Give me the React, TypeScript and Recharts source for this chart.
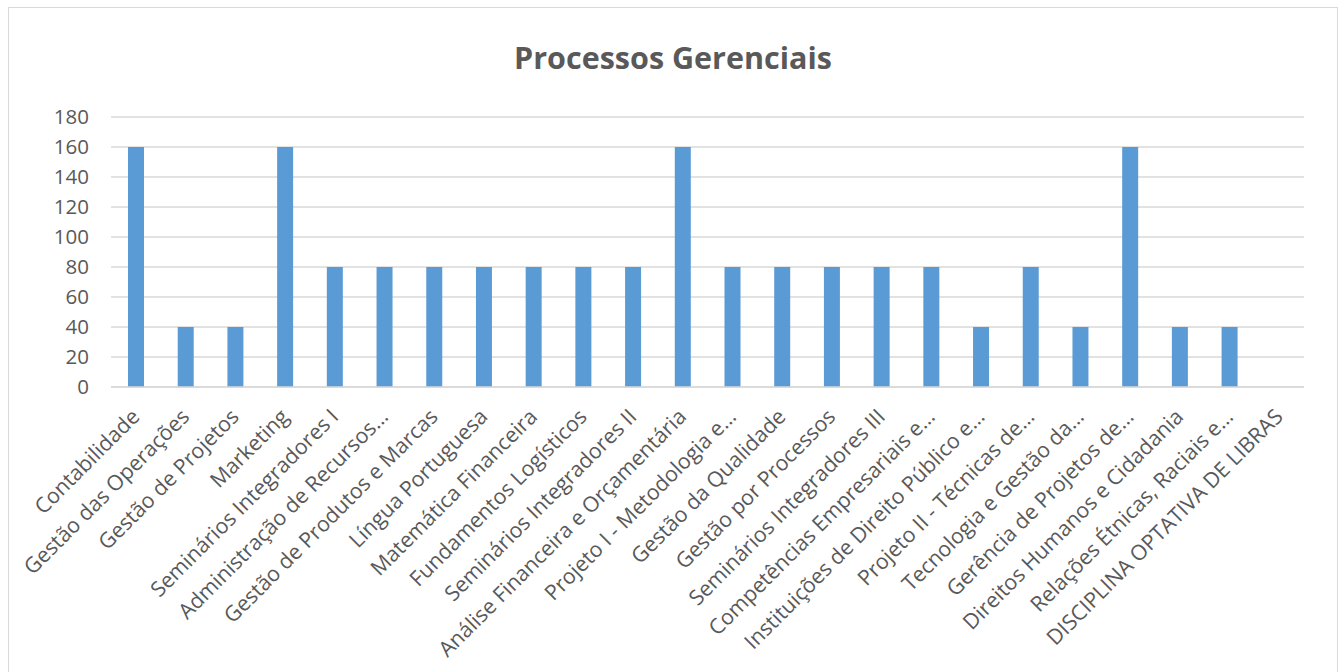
import React from "react";
import { BarChart, Bar, XAxis, YAxis, CartesianGrid } from "recharts";

const categories = [
  "Contabilidade",
  "Gestão das Operações",
  "Gestão de Projetos",
  "Marketing",
  "Seminários Integradores I",
  "Administração de Recursos…",
  "Gestão de Produtos e Marcas",
  "Língua Portuguesa",
  "Matemática Financeira",
  "Fundamentos Logísticos",
  "Seminários Integradores II",
  "Análise Financeira e Orçamentária",
  "Projeto I - Metodologia e…",
  "Gestão da Qualidade",
  "Gestão por Processos",
  "Seminários Integradores III",
  "Competências Empresariais e…",
  "Instituições de Direito Público e…",
  "Projeto II - Técnicas de…",
  "Tecnologia e Gestão da…",
  "Gerência de Projetos de…",
  "Direitos Humanos e Cidadania",
  "Relações Étnicas, Raciais e…",
  "DISCIPLINA OPTATIVA DE LIBRAS",
];

const hours = [
  160, 40, 40, 160, 80, 80, 80, 80, 80, 80, 80, 160, 80, 80, 80, 80, 80, 40, 80, 40, 160, 40, 40, 0,
];

const yTicks = [0, 20, 40, 60, 80, 100, 120, 140, 160, 180];

const title = "Processos Gerenciais";

const data = categories.map((name, i) => ({ name, value: hours[i] }));

const FONT = "'Open Sans', sans-serif";
const TEXT = "#595959";

const XTick = (props: any) => {
  const { x, y, payload } = props;
  return (
    <g transform={`translate(${x + 5},${y + 31})`}>
      <text
        x={0}
        y={0}
        textAnchor="end"
        transform="rotate(-45)"
        fill={TEXT}
        fontSize={21.3}
        fontFamily={FONT}
      >
        {payload.value}
      </text>
    </g>
  );
};

export default function App() {
  return (
    <div style={{ position: "relative", width: 1339, height: 672, overflow: "hidden" }}>
      <style>{"body{margin:0;overflow:hidden}"}</style>
      <div
        style={{
          position: "absolute",
          left: 8,
          top: 7,
          width: 1330,
          height: 680,
          border: "1px solid #d9d9d9",
          boxSizing: "border-box",
          background: "#fff",
        }}
      >
        <div
          style={{
            position: "absolute",
            top: 29,
            left: 0,
            width: 1328,
            height: 40,
            lineHeight: "40px",
            textAlign: "center",
            fontFamily: FONT,
            fontWeight: 700,
            fontSize: 30.5,
            color: TEXT,
          }}
        >
          {title}
        </div>
        <BarChart
          width={1328}
          height={666}
          data={data}
          margin={{ top: 109, right: 33, left: 0, bottom: 0 }}
        >
          <CartesianGrid vertical={false} stroke="#d9d9d9" strokeWidth={1.5} />
          <XAxis
            dataKey="name"
            interval={0}
            height={287}
            tickLine={false}
            tickSize={0}
            tickMargin={0}
            axisLine={{ stroke: "#d9d9d9", strokeWidth: 1.5 }}
            tick={<XTick />}
          />
          <YAxis
            width={102}
            domain={[0, 180]}
            ticks={yTicks}
            interval={0}
            axisLine={false}
            tickLine={false}
            tickSize={0}
            tickMargin={22}
            tick={{ fill: TEXT, fontSize: 20.5, fontFamily: FONT }}
          />
          <Bar dataKey="value" fill="#5b9bd5" barSize={16} isAnimationActive={false} />
        </BarChart>
      </div>
    </div>
  );
}
